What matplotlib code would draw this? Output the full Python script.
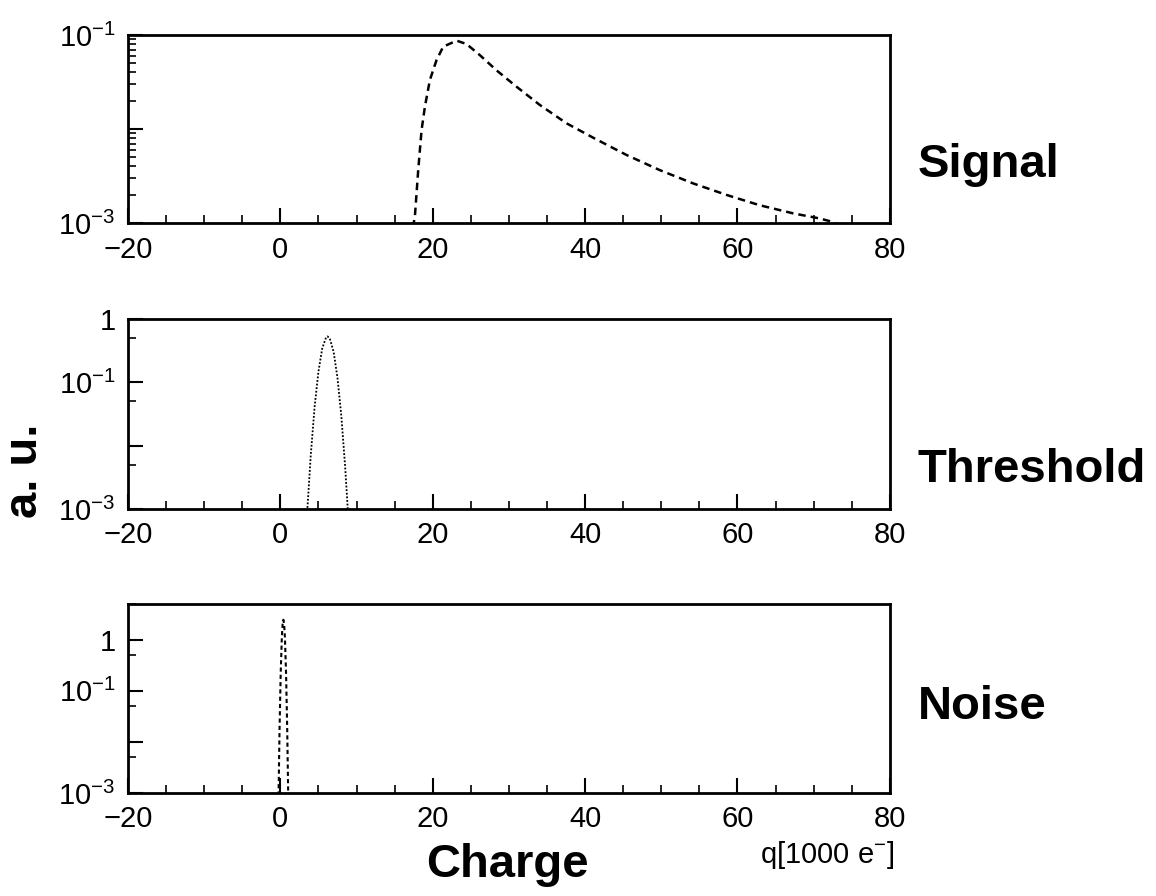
import matplotlib
matplotlib.use("Agg")
import matplotlib.pyplot as plt
from matplotlib.ticker import FixedLocator, LogLocator, NullFormatter

plt.rcParams['font.family'] = ['Liberation Sans', 'DejaVu Sans']
plt.rcParams['mathtext.fontset'] = 'custom'
plt.rcParams['mathtext.rm'] = 'Liberation Sans'
plt.rcParams['mathtext.default'] = 'rm'

# values (q in 1000 e-, y in a.u.)
signal_q = [17.4, 17.66, 18.1, 18.54, 18.98, 19.63, 20.51, 21.38, 23.14, 24.45, 26.19, 28.39,
            31.0, 34.07, 37.57, 41.3, 45.44, 49.8, 54.2, 58.6, 62.9, 67.3, 70.8, 72.1, 73.5]
signal_y = [9e-4, 1.17e-3, 3.66e-3, 9.75e-3, 1.73e-2, 3.32e-2, 5.42e-2, 7.5e-2, 8.7e-2, 8.0e-2,
            6.1e-2, 4.2e-2, 2.82e-2, 1.8e-2, 1.15e-2, 7.9e-3, 5.3e-3, 3.66e-3, 2.64e-3,
            1.99e-3, 1.55e-3, 1.27e-3, 1.12e-3, 1.05e-3, 9.5e-4]

thresh_q = [3.5, 4.0, 4.5, 5.0, 5.5, 6.0, 6.2, 6.5, 7.0, 7.5, 8.0, 8.5, 8.9]
thresh_y = [8e-4, 7.2e-3, 0.041, 0.147, 0.343, 0.51, 0.53, 0.49, 0.30, 0.118, 0.030, 4.8e-3, 8e-4]

noise_q = [-0.25, -0.1, 0.05, 0.2, 0.3, 0.4, 0.5, 0.6, 0.75, 0.9, 1.05]
noise_y = [6.4e-4, 0.0186, 0.224, 1.12, 2.0, 2.45, 2.0, 1.12, 0.224, 0.0186, 6.4e-4]

xticks = [-20, 0, 20, 40, 60, 80]
names = ['Signal', 'Threshold', 'Noise']

fig = plt.figure(figsize=(11.56, 8.96), dpi=100)

# axes boxes in figure fractions
boxes = [[0.1107, 0.751, 0.659, 0.210],
         [0.1107, 0.432, 0.659, 0.212],
         [0.1107, 0.115, 0.659, 0.211]]
ylims = [(1e-3, 1e-1), (1e-3, 1.0), (1e-3, 5.0)]
ylabels = [([1e-3, 1e-2, 1e-1], [r'$10^{-3}$', '', r'$10^{-1}$']),
           ([1e-3, 1e-2, 1e-1, 1.0], [r'$10^{-3}$', '', r'$10^{-1}$', '1']),
           ([1e-3, 1e-2, 1e-1, 1.0], [r'$10^{-3}$', '', r'$10^{-1}$', '1'])]
subs = [(2, 3, 4, 5, 6, 7, 8, 9), (5,), (5,)]

axes = []
for i, b in enumerate(boxes):
    ax = fig.add_axes(b)
    ax.set_yscale('log')
    ax.set_xlim(-20, 80)
    ax.set_ylim(*ylims[i])
    ax.set_xticks(xticks)
    ax.set_xticklabels([str(t).replace('-', '\u2212') for t in xticks])
    ax.xaxis.set_minor_locator(FixedLocator(range(-20, 81, 5)))
    ax.set_yticks(ylabels[i][0])
    ax.set_yticklabels(ylabels[i][1])
    ax.yaxis.set_minor_locator(LogLocator(base=10, subs=subs[i]))
    ax.yaxis.set_minor_formatter(NullFormatter())
    ax.tick_params(which='major', direction='in', length=11, width=1.5,
                   labelsize=21, pad=9, top=False, right=False)
    ax.tick_params(which='minor', direction='in', length=6, width=1.2,
                   top=False, right=False)
    for s in ax.spines.values():
        s.set_linewidth(2)
    axes.append(ax)

axes[0].plot(signal_q, signal_y, color='black', lw=1.8, dashes=(3, 2))
axes[1].plot(thresh_q, thresh_y, color='black', lw=1.3, dashes=(1, 1))
axes[2].plot(noise_q, noise_y, color='black', lw=1.5, dashes=(2, 1.5))

fig.text(0.794, 0.816, names[0], fontsize=34, fontweight='bold', va='center', ha='left')
fig.text(0.794, 0.475, names[1], fontsize=34, fontweight='bold', va='center', ha='left')
fig.text(0.794, 0.211, names[2], fontsize=34, fontweight='bold', va='center', ha='left')
fig.text(0.439, 0.035, 'Charge', fontsize=34, fontweight='bold', va='center', ha='center')
fig.text(0.022, 0.474, 'a. u.', fontsize=34, fontweight='bold', va='center', ha='center',
         rotation=90)
fig.text(0.774, 0.046, r'q[1000 e$^{-}$]', fontsize=21, va='center', ha='right')

fig.savefig('out.png', dpi=100)
